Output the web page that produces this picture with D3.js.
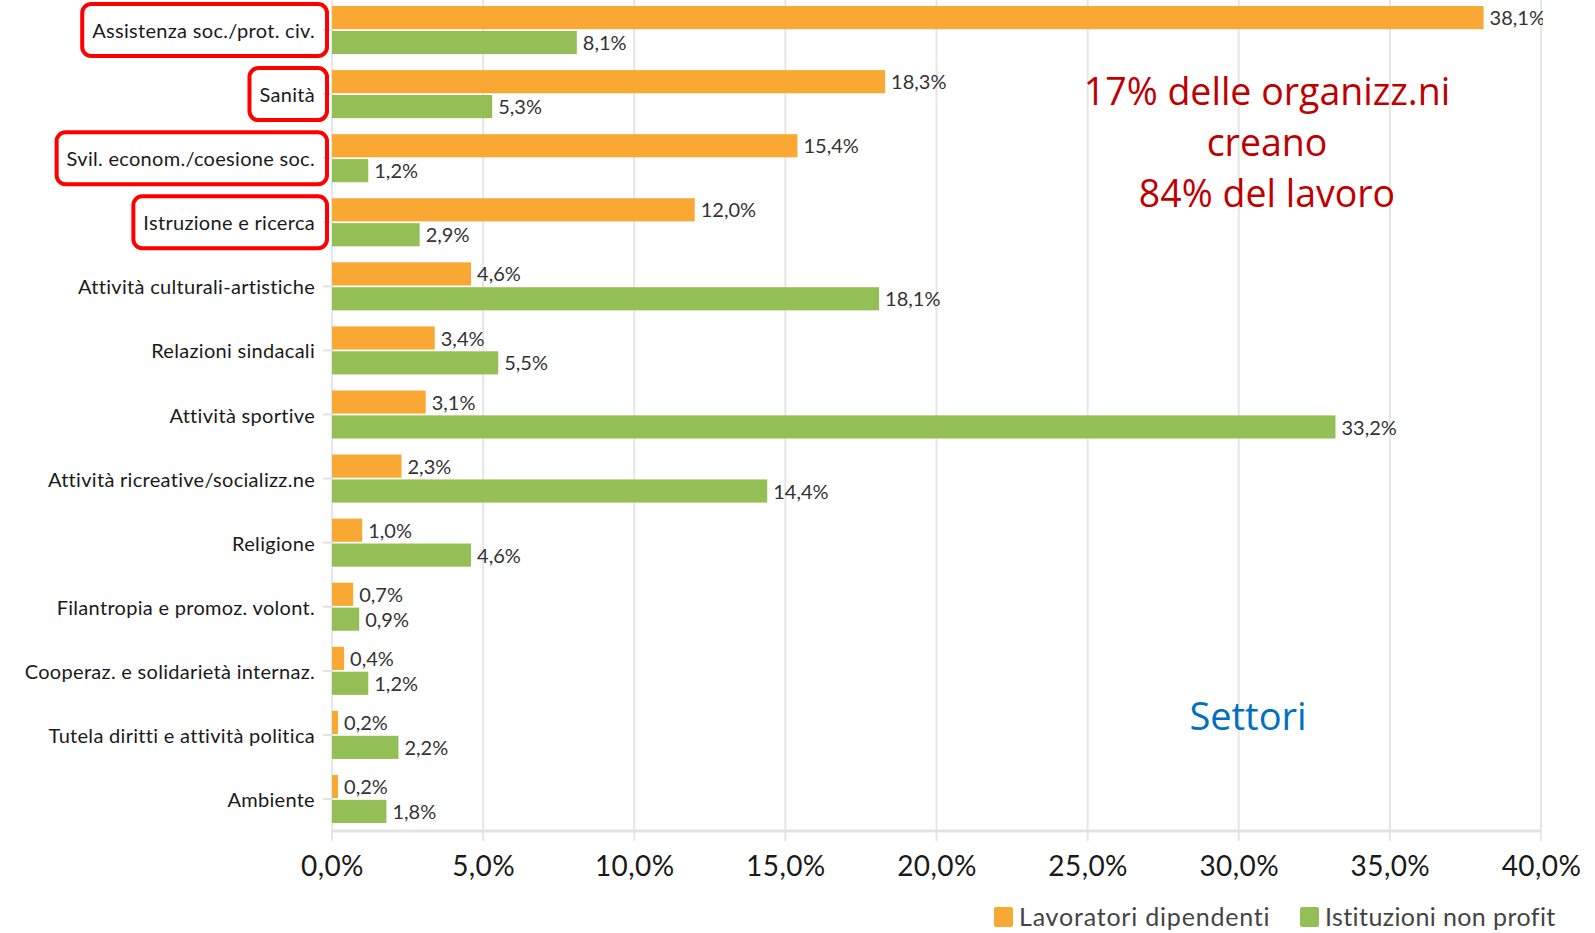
<!DOCTYPE html>
<html>
<head>
<meta charset="utf-8">
<script src="https://cdn.jsdelivr.net/npm/d3@7"></script>
<style>
  body { margin: 0; background: #fff; }
  svg { display: block; }
</style>
</head>
<body>
<div id="chart"></div>
<script>
const categories = [
    "Assistenza soc./prot. civ.",
    "Sanità",
    "Svil. econom./coesione soc.",
    "Istruzione e ricerca",
    "Attività culturali-artistiche",
    "Relazioni sindacali",
    "Attività sportive",
    "Attività ricreative/socializz.ne",
    "Religione",
    "Filantropia e promoz. volont.",
    "Cooperaz. e solidarietà internaz.",
    "Tutela diritti e attività politica",
    "Ambiente"
];
const lavoratori = [38.1, 18.3, 15.4, 12.0, 4.6, 3.4, 3.1, 2.3, 1.0, 0.7, 0.4, 0.2, 0.2];
const istituzioni = [8.1, 5.3, 1.2, 2.9, 18.1, 5.5, 33.2, 14.4, 4.6, 0.9, 1.2, 2.2, 1.8];
const seriesNames = ["Lavoratori dipendenti", "Istituzioni non profit"];
const seriesColors = ["#f9a833", "#94bf56"];
const xTicks = [0, 5, 10, 15, 20, 25, 30, 35, 40];
const highlighted = [0, 1, 2, 3];
const noteLines = ["17% delle organizz.ni", "creano", "84% del lavoro"];

const W = 1595, H = 933;
const x0 = 332, x1 = 1541;
const yTop = -2, yBottom = 831;
const labelFont = "Lato, 'Noto Sans', sans-serif";
const fmt = v => v.toFixed(1).replace(".", ",") + "%";

const svg = d3.select("#chart").append("svg")
    .attr("width", W)
    .attr("height", H);

const x = d3.scaleLinear().domain([0, 40]).range([x0, x1]);
const y = d3.scaleBand().domain(categories).range([yTop, yBottom]).paddingInner(0.25).paddingOuter(0.125);
const sub = d3.scaleBand().domain([0, 1]).range([0, y.bandwidth()]).paddingInner(0.07);

// gridlines
svg.append("g")
    .selectAll("line")
    .data(xTicks)
    .enter()
    .append("line")
    .attr("x1", d => x(d))
    .attr("x2", d => x(d))
    .attr("y1", 0)
    .attr("y2", yBottom + 10)
    .style("stroke", "#e6e6e6")
    .style("stroke-width", 2);

// baseline
svg.append("line")
    .attr("x1", x0)
    .attr("x2", x1)
    .attr("y1", yBottom)
    .attr("y2", yBottom)
    .style("stroke", "#e1e3e3")
    .style("stroke-width", 3);

// x axis labels
const xAxis = d3.axisBottom(x)
    .tickValues(xTicks)
    .tickSize(0)
    .tickPadding(25)
    .tickFormat(fmt);
const xg = svg.append("g")
    .attr("transform", `translate(0, ${yBottom})`)
    .call(xAxis);
xg.select(".domain").remove();
xg.selectAll("text")
    .style("font-family", labelFont)
    .style("font-size", "28px")
    .style("letter-spacing", "0.4px")
    .style("fill", "#1a1a1a");

// y axis labels
const yAxis = d3.axisLeft(y).tickSize(8).tickPadding(8);
const yg = svg.append("g")
    .attr("transform", `translate(${x0 - 1}, 0)`)
    .call(yAxis);
yg.select(".domain").remove();
yg.selectAll("line").style("stroke", "#e1e3e3").style("stroke-width", 2);
yg.selectAll("text")
    .attr("dy", "0.4em")
    .style("font-family", labelFont)
    .style("font-size", "20px")
    .style("letter-spacing", "0.3px")
    .style("fill", "#1a1a1a");

// clip for value labels
svg.append("clipPath")
    .attr("id", "plot-clip")
    .append("rect")
    .attr("x", 0)
    .attr("y", 0)
    .attr("width", 1543)
    .attr("height", H);

const series = [lavoratori, istituzioni];
const plot = svg.append("g").attr("clip-path", "url(#plot-clip)");

series.forEach((values, s) => {
    const rows = categories.map((c, i) => ({ cat: c, value: values[i] }));
    plot.selectAll(".bar-" + s)
        .data(rows)
        .enter()
        .append("rect")
        .attr("class", "bar-" + s)
        .attr("x", x(0))
        .attr("y", d => y(d.cat) + sub(s))
        .attr("width", d => x(d.value) - x(0))
        .attr("height", sub.bandwidth())
        .attr("fill", seriesColors[s]);

    plot.selectAll(".val-" + s)
        .data(rows)
        .enter()
        .append("text")
        .attr("class", "val-" + s)
        .attr("x", d => x(d.value) + 6)
        .attr("y", d => y(d.cat) + sub(s) + sub.bandwidth() / 2)
        .attr("dy", "0.38em")
        .text(d => fmt(d.value))
        .style("font-family", labelFont)
        .style("font-size", "20px")
        .style("fill", "#333");
});

// red highlight boxes
yg.selectAll(".tick")
    .filter((d, i) => highlighted.includes(i))
    .each(function(d) {
        const t = d3.select(this).select("text").node().getBBox();
        d3.select(this).insert("rect", "text")
            .attr("x", t.x - 10)
            .attr("y", -26)
            .attr("width", -t.x + 10 - 4)
            .attr("height", 52)
            .attr("rx", 9)
            .style("fill", "none")
            .style("stroke", "#ff0000")
            .style("stroke-width", 4);
    });

// annotation
svg.append("text")
    .attr("x", 1268)
    .attr("y", 105)
    .style("text-anchor", "middle")
    .style("font-family", "'Open Sans', 'Noto Sans', sans-serif")
    .style("font-size", "37.5px")
    .style("fill", "#c00000")
    .selectAll("tspan")
    .data(noteLines)
    .enter()
    .append("tspan")
    .attr("x", 1267)
    .attr("dy", (d, i) => i === 0 ? 0 : 51)
    .text(d => d);

svg.append("text")
    .attr("x", 1248)
    .attr("y", 730)
    .style("text-anchor", "middle")
    .style("font-family", "'Open Sans', 'Noto Sans', sans-serif")
    .style("font-size", "38px")
    .style("fill", "#0070c0")
    .text("Settori");

// legend
const legendX = [994, 1300];
const legend = svg.append("g")
    .selectAll("g")
    .data(seriesNames)
    .enter()
    .append("g")
    .attr("transform", (d, i) => `translate(${legendX[i]}, 917)`);

legend.append("rect")
    .attr("x", 0)
    .attr("y", -10)
    .attr("width", 19)
    .attr("height", 20)
    .attr("rx", 2)
    .attr("fill", (d, i) => seriesColors[i]);

legend.append("text")
    .attr("x", 25)
    .attr("dy", "0.36em")
    .text(d => d)
    .style("font-family", labelFont)
    .style("font-size", "25px")
    .style("letter-spacing", (d, i) => i === 0 ? "0.8px" : "0.4px")
    .style("fill", "#444");
</script>
</body>
</html>
